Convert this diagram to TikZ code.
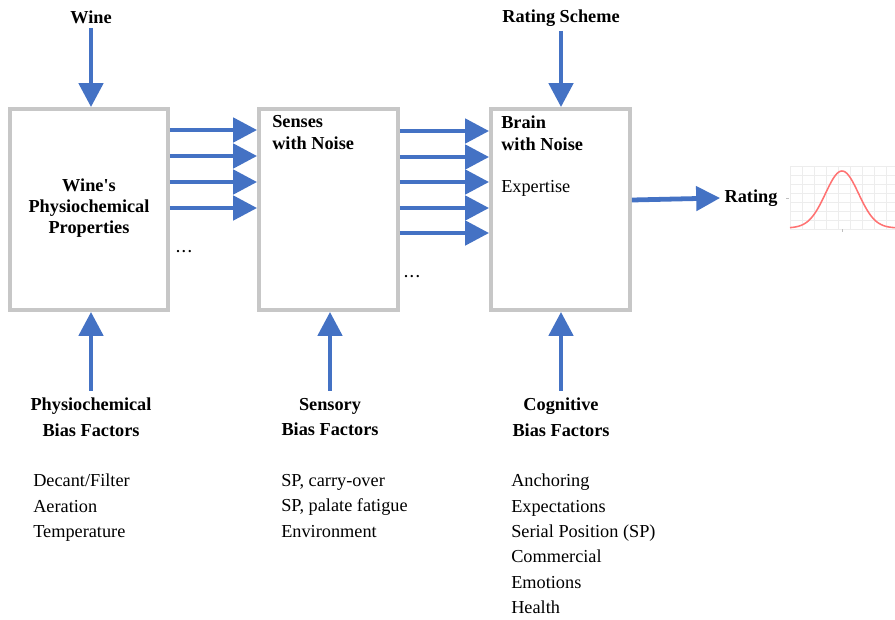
\documentclass[tikz,border=0pt]{standalone}
\usepackage{fontspec}
\setmainfont{Liberation Serif}
\newfontfamily\plainserif{Liberation Serif}
\usetikzlibrary{arrows.meta}
\definecolor{flowblue}{RGB}{68,114,196}

\begin{document}
\begin{tikzpicture}[x=0.025cm,y=-0.025cm,
  box/.style={draw=black!22,line width=2.8pt,minimum height=5.02cm,inner sep=0pt},
  flow/.style={draw=flowblue,line width=3.4pt,-{Triangle[length=17pt,width=17pt]}},
  head/.style={font=\bfseries\fontsize{13}{15.5}\selectfont,inner sep=0pt},
  bias/.style={font=\bfseries\fontsize{13}{18}\selectfont,align=center,inner sep=0pt},
  list/.style={font=\fontsize{13}{18}\selectfont,align=left,inner sep=0pt,anchor=north west}]
\useasboundingbox (0,0) rectangle (895,619);

% Boxes
\node[box,minimum width=3.95cm] (phys) at (89,209.5) {};
\node[box,minimum width=3.47cm] (senses) at (328.5,209.5) {};
\node[box,minimum width=3.47cm] (brain) at (560.5,209.5) {};

% Box texts
\node[head,align=center,font=\bfseries\fontsize{13}{15}\selectfont] (physTxt) at (89,208) {{\plainserif\bfseries Wine's}\\Physiochemical\\Properties};
\node[head,align=left,anchor=north west] (sensesTxt) at (272,115) {Senses\\with Noise};
\node[head,align=left,anchor=north west] (brainTxt) at (501,116) {Brain\\with Noise};
\node[list] (expertise) at (501,180) {Expertise};

% Inputs from above
\node[head] (wine) at (91,17) {Wine};
\node[head] (scheme) at (561,18) {Rating Scheme};
\draw[flow] ([yshift=-3pt]wine.south) -- (wine.south |- phys.north);
\draw[flow] ([yshift=-3pt]scheme.south) -- (scheme.south |- brain.north);

% Signals between the boxes
\foreach \y in {130,156,182,208}
  \draw[flow] (phys.east |- 0,\y) -- (senses.west |- 0,\y);
\foreach \y in {131,157,182,208,233}
  \draw[flow] (senses.east |- 0,\y) -- (brain.west |- 0,\y);
\node[inner sep=0pt,font=\bfseries] (dotsA) at (184,252) {.\,.\,.};
\node[inner sep=0pt,font=\bfseries] (dotsB) at (412,277) {.\,.\,.};

% Output
\node[head] (rating) at (751,198) {Rating};
\draw[flow] (brain.east |- 0,200) -- ([xshift=-3pt]rating.west);

% Rating distribution
\foreach \x in {790,802,...,890}
  \draw[black!7,line width=0.4pt] (\x,166) -- (\x,229);
\foreach \y in {166,175,...,229}
  \draw[black!7,line width=0.4pt] (790,\y) -- (895,\y);
\draw[black!25,line width=0.4pt] (786,198) -- (789,198);
\draw[black!25,line width=0.4pt] (842,229) -- (842,232);
\draw[red!55,line width=1.1pt,domain=790:895,samples=90]
  plot (\x,{228-57*exp(-((\x-842)/16.5)^2/2)});

% Bias factors from below
\node[bias,anchor=north] (physBias) at (91,398) {Physiochemical\\Bias Factors};
\node[bias,anchor=north] (sensBias) at (330,398) {Sensory\\Bias Factors};
\node[bias,anchor=north] (cogBias) at (561,398) {Cognitive\\Bias Factors};
\draw[flow] ([yshift=5pt]physBias.north) -- (physBias.north |- phys.south);
\draw[flow] ([yshift=5pt]sensBias.north) -- (sensBias.north |- senses.south);
\draw[flow] ([yshift=5pt]cogBias.north) -- (cogBias.north |- brain.south);

% Factor lists
\node[list] (physList) at (33,474) {Decant/Filter\\Aeration\\Temperature};
\node[list] (sensList) at (281,474) {SP, carry-over\\SP, palate fatigue\\Environment};
\node[list] (cogList) at (511,474) {Anchoring\\Expectations\\Serial Position (SP)\\Commercial\\Emotions\\Health};
\end{tikzpicture}
\end{document}
